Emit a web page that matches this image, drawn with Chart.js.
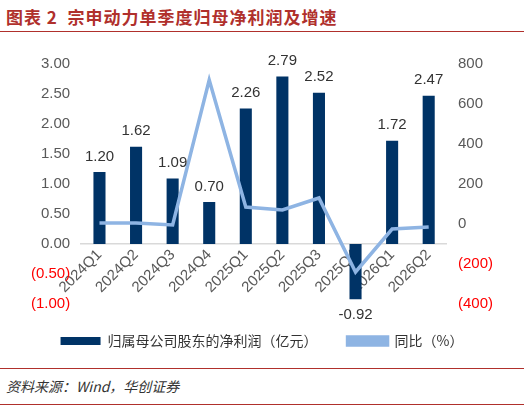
<!DOCTYPE html>
<html><head><meta charset="utf-8">
<script src="https://cdn.jsdelivr.net/npm/chart.js@4"></script>
<style>
body{margin:0;width:524px;height:413px;background:#fff;font-family:"Noto Sans CJK SC",sans-serif;overflow:hidden;position:relative}
#title{position:absolute;left:6px;top:4px;font-size:17px;font-weight:bold;color:#b0302c;letter-spacing:1px}
#tl{position:absolute;left:0;top:31px;width:524px;border-top:1.5px solid #b0302c}
#box{position:absolute;left:0;top:52px;width:524px;height:306px}
#src{position:absolute;left:6px;top:376px;font-size:14px;font-style:italic;color:#333}
#sl1{position:absolute;left:0;top:368px;width:524px;border-top:1px solid #b0302c}
#sl2{position:absolute;left:0;top:404px;width:524px;border-top:1px solid #b0302c}
</style></head><body>
<div id="title">图表 2&nbsp;&nbsp;宗申动力单季度归母净利润及增速</div>
<div id="tl"></div>
<div id="box"><canvas id="c"></canvas></div>
<div id="sl1"></div>
<div id="src">资料来源：Wind，华创证券</div>
<div id="sl2"></div>
<script>
const quarters = ['2024Q1','2024Q2','2024Q3','2024Q4','2025Q1','2025Q2','2025Q3','2025Q4','2026Q1','2026Q2'];
const profit = [1.20,1.62,1.09,0.70,2.26,2.79,2.52,-0.92,1.72,2.47];
const yoy = [5,5,-5,720,85,70,130,-240,-25,-15];

const fmt = (v, d) => v < 0 ? '(' + Math.abs(v).toFixed(d) + ')' : v.toFixed(d);
const negRed = ctx => ctx.tick && ctx.tick.value < 0 ? '#ff0000' : '#595959';

const barLabels = {
  id: 'barLabels',
  afterDatasetsDraw(chart) {
    const c = chart.ctx;
    const meta = chart.getDatasetMeta(1);
    c.save();
    c.font = '15px Arial, "Liberation Sans"';
    c.fillStyle = '#333';
    c.textAlign = 'center';
    meta.data.forEach((bar, i) => {
      const v = profit[i];
      if (v >= 0) { c.textBaseline = 'bottom'; c.fillText(v.toFixed(2), bar.x, bar.y - 8); }
      else { c.textBaseline = 'top'; c.fillText(v.toFixed(2), bar.x, bar.y + 8); }
    });
    c.restore();
  }
};

new Chart(document.getElementById('c'), {
  data: {
    labels: quarters,
    datasets: [
      { type: 'line', label: '同比（%）', data: yoy, yAxisID: 'y1', borderColor: '#8eb4e3', backgroundColor: '#8eb4e3', borderWidth: 3.5, pointRadius: 0, tension: 0, order: 0 },
      { type: 'bar', label: '归属母公司股东的净利润（亿元）', data: profit, yAxisID: 'y', backgroundColor: '#003366', barPercentage: 0.33, categoryPercentage: 1, order: 1 }
    ]
  },
  options: {
    responsive: true, maintainAspectRatio: false, animation: false,
    layout: { padding: { left: 28, right: 28, top: 12 } },
    plugins: {
      legend: { position: 'bottom', reverse: true, labels: { color: '#333', font: { size: 14, family: '"Noto Sans CJK SC"' }, boxWidth: 40, boxHeight: 8, padding: 30 } },
      tooltip: { enabled: false }
    },
    scales: {
      x: {
        position: { y: 0 },
        grid: { display: false, drawTicks: false },
        border: { color: '#d9d9d9', width: 1.5 },
        ticks: { color: '#595959', font: { size: 15, family: 'Arial' }, maxRotation: 45, minRotation: 45, padding: 2 }
      },
      y: {
        min: -1, max: 3, position: 'left',
        grid: { display: false }, border: { display: false },
        ticks: { stepSize: 0.5, color: negRed, font: { size: 15, family: 'Arial' }, callback: v => fmt(v, 2) }
      },
      y1: {
        min: -400, max: 800, position: 'right',
        grid: { display: false }, border: { display: false },
        ticks: { stepSize: 200, color: negRed, font: { size: 15, family: 'Arial' }, callback: v => fmt(v, 0) }
      }
    }
  },
  plugins: [barLabels]
});
</script>
</body></html>
